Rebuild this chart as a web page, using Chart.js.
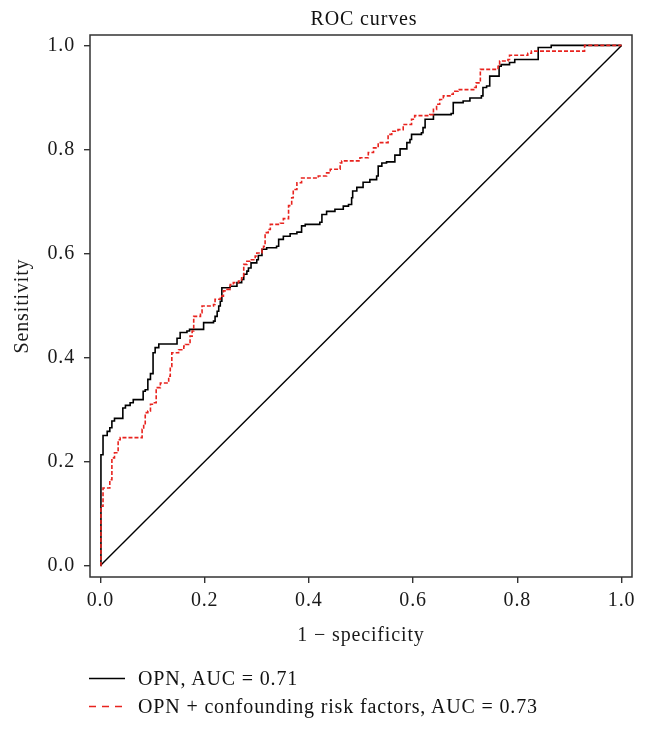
<!DOCTYPE html>
<html>
<head>
<meta charset="utf-8">
<script src="https://cdn.jsdelivr.net/npm/chart.js@4.4.1/dist/chart.umd.min.js"></script>
<style>
  html, body { margin: 0; padding: 0; background: #fff; }
  #wrap { position: relative; width: 647px; height: 730px; }
  canvas { position: absolute; left: 0; top: 0; }
  .leg { position: absolute; left: 89px; height: 24px; font: 20px/24px 'Liberation Serif', 'Times New Roman', serif; letter-spacing: 0.85px; color: #111; white-space: nowrap; }
  .leg svg { position: absolute; left: 0; top: 0; }
  .leg span { position: absolute; left: 49px; top: 0; }
</style>
</head>
<body>
<div id="wrap">
  <canvas id="c" width="647" height="730"></canvas>
  <div class="leg" style="top:666px"><svg width="40" height="24"><line x1="0" y1="12.5" x2="36" y2="12.5" stroke="#000" stroke-width="1.5"/></svg><span id="l1"></span></div>
  <div class="leg" style="top:694px"><svg width="40" height="24"><line x1="0" y1="12.5" x2="36" y2="12.5" stroke="#e8231e" stroke-width="1.5" stroke-dasharray="7 6"/></svg><span id="l2"></span></div>
</div>
<script>
// ---- data ----
const chartTitle = 'ROC curves';
const xTitle = '1 \u2212 specificity';
const yTitle = 'Sensitivity';
const seriesNames = ['OPN, AUC = 0.71', 'OPN + confounding risk factors, AUC = 0.73'];
const xTicks = [0, 0.2, 0.4, 0.6, 0.8, 1.0];
const yTicks = [0, 0.2, 0.4, 0.6, 0.8, 1.0];

const opnFpr = [0,0.001,0.005,0.005,0.013,0.013,0.018,0.018,0.022,0.027,0.043,0.043,0.048,0.057,0.063,0.082,0.082,0.086,0.091,0.096,0.101,0.105,0.112,0.140,0.147,0.153,0.166,0.171,0.188,0.198,0.217,0.220,0.224,0.227,0.230,0.233,0.243,0.249,0.262,0.271,0.275,0.281,0.284,0.289,0.300,0.303,0.310,0.319,0.338,0.342,0.351,0.364,0.377,0.386,0.393,0.409,0.421,0.425,0.434,0.450,0.463,0.466,0.476,0.482,0.484,0.492,0.504,0.517,0.530,0.533,0.540,0.549,0.565,0.575,0.588,0.594,0.597,0.616,0.619,0.623,0.639,0.673,0.677,0.696,0.709,0.731,0.734,0.741,0.747,0.763,0.765,0.769,0.785,0.795,0.836,0.840,0.862,0.865,1.0];
const opnTpr = [0,0.213,0.217,0.250,0.250,0.258,0.258,0.265,0.278,0.283,0.283,0.303,0.308,0.313,0.319,0.319,0.335,0.338,0.358,0.369,0.409,0.419,0.426,0.426,0.437,0.448,0.451,0.454,0.454,0.467,0.470,0.479,0.489,0.499,0.508,0.534,0.534,0.537,0.544,0.550,0.560,0.566,0.572,0.582,0.588,0.596,0.608,0.611,0.614,0.627,0.633,0.638,0.641,0.653,0.656,0.656,0.660,0.675,0.681,0.685,0.685,0.691,0.694,0.707,0.720,0.727,0.737,0.742,0.749,0.768,0.774,0.776,0.789,0.801,0.813,0.819,0.829,0.832,0.842,0.858,0.867,0.869,0.890,0.893,0.899,0.903,0.919,0.922,0.941,0.941,0.960,0.963,0.967,0.973,0.973,0.996,0.996,1.0,1.0];

const combFpr = [0,0.001,0.005,0.005,0.018,0.018,0.022,0.022,0.027,0.034,0.038,0.075,0.080,0.083,0.086,0.091,0.096,0.102,0.107,0.112,0.115,0.128,0.131,0.134,0.137,0.150,0.160,0.163,0.172,0.176,0.179,0.192,0.195,0.217,0.220,0.230,0.236,0.243,0.249,0.255,0.265,0.271,0.275,0.281,0.287,0.297,0.300,0.310,0.313,0.316,0.322,0.326,0.345,0.351,0.361,0.367,0.370,0.377,0.386,0.418,0.434,0.441,0.453,0.460,0.463,0.495,0.498,0.514,0.524,0.533,0.552,0.559,0.571,0.581,0.594,0.597,0.603,0.632,0.639,0.645,0.651,0.658,0.673,0.677,0.686,0.718,0.721,0.728,0.729,0.741,0.763,0.766,0.782,0.785,0.811,0.820,0.827,0.926,0.929,1.0];
const combTpr = [0,0.114,0.133,0.149,0.149,0.165,0.185,0.207,0.217,0.242,0.246,0.246,0.262,0.271,0.294,0.297,0.310,0.313,0.342,0.342,0.351,0.351,0.364,0.383,0.409,0.415,0.422,0.425,0.441,0.451,0.479,0.486,0.499,0.502,0.512,0.518,0.528,0.531,0.540,0.544,0.547,0.553,0.579,0.585,0.588,0.595,0.601,0.608,0.614,0.640,0.646,0.656,0.658,0.667,0.692,0.707,0.723,0.736,0.745,0.749,0.755,0.762,0.762,0.774,0.778,0.778,0.784,0.794,0.803,0.813,0.829,0.835,0.838,0.848,0.848,0.858,0.865,0.867,0.877,0.887,0.896,0.903,0.906,0.912,0.915,0.919,0.928,0.928,0.954,0.954,0.960,0.970,0.973,0.981,0.981,0.985,0.989,0.989,1.0,1.0];

const refX = [0, 1];
const refY = [0, 1];

// ---- build ----
const FONT = "'Liberation Serif', 'Times New Roman', serif";
const toPts = (xs, ys) => xs.map((x, i) => ({ x: x, y: ys[i] }));
document.getElementById('l1').textContent = seriesNames[0];
document.getElementById('l2').textContent = seriesNames[1];

const framePlugin = {
  id: 'frame',
  beforeInit(chart) { chart.ctx.letterSpacing = '0.85px'; },
  beforeUpdate(chart) { chart.ctx.letterSpacing = '0.85px'; },
  afterDraw(chart) {
    const { ctx, chartArea: a } = chart;
    ctx.save();
    ctx.strokeStyle = '#333';
    ctx.lineWidth = 1.5;
    ctx.strokeRect(a.left, a.top, a.right - a.left, a.bottom - a.top);
    ctx.fillStyle = '#111';
    ctx.font = '20px ' + FONT;
    ctx.textAlign = 'center';
    ctx.textBaseline = 'middle';
    ctx.fillText(chartTitle, (a.left + a.right) / 2 + 3, 20);
    ctx.restore();
  }
};

new Chart(document.getElementById('c'), {
  type: 'line',
  data: {
    datasets: [
      { label: seriesNames[0], data: toPts(opnFpr, opnTpr), borderColor: '#000', borderWidth: 1.6, pointRadius: 0, stepped: true, order: 1, fill: false },
      { label: seriesNames[1], data: toPts(combFpr, combTpr), borderColor: '#e8231e', borderWidth: 1.6, borderDash: [4, 2], pointRadius: 0, stepped: true, order: 0, fill: false },
      { label: 'reference', data: toPts(refX, refY), borderColor: '#000', borderWidth: 1.4, pointRadius: 0, order: 2, fill: false }
    ]
  },
  options: {
    responsive: false,
    animation: false,
    devicePixelRatio: 1,
    layout: { padding: { top: 35, right: 15, bottom: 80, left: 0 } },
    plugins: { legend: { display: false }, tooltip: { enabled: false }, title: { display: false } },
    scales: {
      x: {
        type: 'linear', min: -0.02, max: 1.02,
        afterBuildTicks: s => { s.ticks = xTicks.map(v => ({ value: v })); },
        afterFit: s => { s.height = 73; },
        ticks: { callback: v => v.toFixed(1), font: { family: FONT, size: 20 }, color: '#1a1a1a', padding: 6, maxRotation: 0, autoSkip: false },
        grid: { drawOnChartArea: false, drawTicks: true, tickLength: 6, color: '#333', lineWidth: 1.4 },
        border: { display: false },
        title: { display: true, text: xTitle, font: { family: FONT, size: 20 }, color: '#1a1a1a', padding: { top: 0, bottom: 2 } }
      },
      y: {
        type: 'linear', min: -0.022, max: 1.02,
        afterBuildTicks: s => { s.ticks = yTicks.map(v => ({ value: v })); },
        afterFit: s => { s.width = 90; },
        ticks: { callback: v => v.toFixed(1), font: { family: FONT, size: 20 }, color: '#1a1a1a', padding: 9, autoSkip: false },
        grid: { drawOnChartArea: false, drawTicks: true, tickLength: 6, color: '#333', lineWidth: 1.4 },
        border: { display: false },
        title: { display: true, text: yTitle, font: { family: FONT, size: 20 }, color: '#1a1a1a', padding: { top: 11, bottom: 0 } }
      }
    }
  },
  plugins: [framePlugin]
});
</script>
</body>
</html>
